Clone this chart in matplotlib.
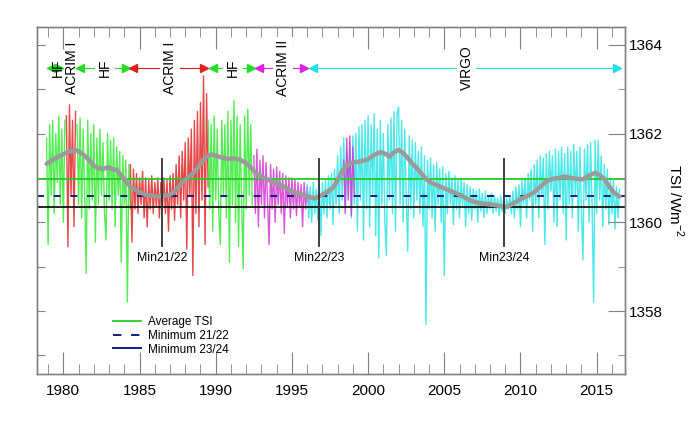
import matplotlib
matplotlib.use('Agg')
import matplotlib.pyplot as plt
from matplotlib.lines import Line2D
from matplotlib.ticker import MultipleLocator
import numpy as np

plt.rcParams['font.family'] = ['Liberation Sans', 'DejaVu Sans']
plt.rcParams['mathtext.fontset'] = 'custom'
plt.rcParams['mathtext.rm'] = 'Liberation Sans'
plt.rcParams['lines.scale_dashes'] = False

# daily TSI, sampled every 0.1 yr, per instrument (start year, values)
hf1_start = 1978.9
hf1_tsi = [1361.9, 1359.5, 1362.2, 1360.6, 1362.3, 1360.2, 1362.0, 1360.9, 1362.4, 1360.4,
           1362.1, 1360.0, 1362.3]

acrim1a_start = 1980.2
acrim1a_tsi = [1362.4, 1359.45, 1362.65, 1360.6, 1362.3, 1359.9, 1362.5]

hf2_start = 1980.9
hf2_tsi = [1362.2, 1360.4, 1362.35, 1360.1, 1362.1, 1360.6, 1358.85, 1362.3, 1360.3, 1362.0,
           1360.5, 1362.2, 1359.55, 1361.9, 1360.4, 1362.1, 1360.6, 1361.8, 1360.2, 1359.6,
           1362.0, 1360.5, 1361.85, 1360.3, 1361.9, 1359.9, 1361.7, 1360.6, 1361.6, 1359.1,
           1361.5, 1360.4, 1361.4, 1358.2, 1361.3, 1360.3]

acrim1b_start = 1984.4
acrim1b_tsi = [1361.3, 1359.55, 1361.2, 1360.3, 1361.1, 1360.2, 1361.0, 1360.4, 1361.15, 1360.1,
               1361.0, 1359.9, 1360.95, 1360.3, 1361.05, 1360.2, 1360.9, 1360.35, 1361.0, 1360.1,
               1360.9, 1360.3, 1361.0, 1360.2, 1360.95, 1359.8, 1361.05, 1360.3, 1361.1, 1360.05,
               1361.3, 1360.4, 1361.5, 1360.1, 1361.6, 1360.5, 1361.8, 1359.4, 1361.9, 1360.6,
               1362.1, 1358.8, 1362.3, 1360.2, 1362.5, 1359.9, 1362.7, 1360.5, 1363.3, 1359.5,
               1362.9, 1360.8]

hf3_start = 1989.5
hf3_tsi = [1362.3, 1360.3, 1362.2, 1359.8, 1362.4, 1360.5, 1362.1, 1360.2, 1359.5, 1362.3,
           1360.6, 1362.2, 1360.1, 1362.5, 1359.1, 1362.3, 1360.4, 1362.75, 1360.0, 1362.4,
           1359.45, 1362.2, 1360.5, 1358.95, 1362.4, 1360.3, 1362.55, 1360.6, 1362.2, 1360.4]

acrim2_start = 1992.5
acrim2_tsi = [1361.5, 1360.2, 1361.65, 1359.9, 1361.4, 1360.4, 1361.5, 1360.1, 1361.35, 1360.5,
              1359.5, 1361.3, 1360.3, 1361.2, 1360.0, 1361.25, 1360.4, 1361.15, 1360.2, 1361.1,
              1359.75, 1361.05, 1360.35, 1361.0, 1360.1, 1361.0, 1360.3, 1360.95, 1360.15, 1360.9,
              1360.35, 1360.85, 1359.9, 1360.9, 1360.3, 1360.8, 1360.4]

acrim2b_start = 1998.4
acrim2b_tsi = [1361.4, 1360.2, 1361.9, 1360.5, 1361.95, 1360.15, 1361.7, 1360.6]

virgo_start = 1996.0
virgo_tsi = [
    1360.85, 1360.1, 1360.8, 1360.0, 1360.9, 1360.2, 1360.75, 1360.05, 1360.85, 1359.7,   # 1996
    1360.9, 1360.2, 1360.95, 1360.1, 1361.05, 1360.3, 1361.1, 1359.95, 1361.2, 1360.4,    # 1997
    1361.5, 1360.2, 1361.7, 1360.5, 1361.9, 1360.3, 1361.6, 1360.6, 1361.8, 1360.1,       # 1998
    1361.95, 1360.4, 1362.0, 1359.8, 1362.15, 1360.5, 1362.2, 1359.6, 1362.3, 1360.3,     # 1999
    1362.4, 1359.9, 1362.2, 1360.6, 1362.45, 1359.7, 1362.1, 1359.2, 1362.3, 1360.4,      # 2000
    1362.0, 1360.0, 1359.25, 1362.2, 1360.5, 1362.35, 1360.2, 1362.5, 1359.8, 1362.45,    # 2001
    1362.6, 1360.4, 1362.3, 1360.0, 1362.1, 1360.6, 1359.35, 1361.95, 1360.3, 1361.85,    # 2002
    1360.1, 1361.8, 1360.5, 1361.6, 1360.2, 1361.7, 1359.9, 1361.5, 1357.7, 1361.4,       # 2003
    1360.3, 1361.45, 1360.1, 1361.3, 1359.8, 1361.35, 1360.4, 1361.2, 1360.0, 1361.25,    # 2004
    1358.8, 1361.1, 1360.2, 1361.15, 1360.4, 1361.0, 1359.95, 1361.05, 1360.3, 1360.95,   # 2005
    1360.1, 1361.0, 1360.35, 1360.9, 1359.9, 1360.85, 1360.2, 1360.8, 1360.05, 1360.75,   # 2006
    1360.3, 1360.7, 1360.0, 1360.75, 1360.25, 1360.65, 1360.1, 1360.7, 1360.2, 1360.6,    # 2007
    1360.3, 1360.65, 1360.2, 1360.6, 1360.25, 1360.55, 1360.15, 1360.6, 1360.25, 1360.5,  # 2008
    1360.2, 1360.55, 1360.3, 1360.6, 1360.2, 1360.7, 1360.1, 1360.8, 1360.3, 1360.85,     # 2009
    1359.9, 1360.95, 1360.4, 1361.0, 1360.1, 1361.1, 1360.5, 1361.2, 1359.8, 1361.3,      # 2010
    1360.4, 1361.4, 1360.1, 1361.5, 1360.6, 1361.45, 1359.5, 1361.55, 1360.3, 1361.6,     # 2011
    1360.7, 1361.5, 1360.0, 1361.65, 1359.9, 1361.6, 1360.5, 1361.7, 1360.2, 1361.55,     # 2012
    1359.6, 1361.7, 1360.4, 1361.6, 1360.1, 1361.75, 1360.6, 1361.6, 1359.8, 1361.7,      # 2013
    1360.3, 1359.15, 1361.65, 1360.5, 1361.75, 1360.0, 1361.8, 1360.4, 1358.2, 1361.85,   # 2014
    1360.2, 1361.85, 1360.5, 1361.5, 1359.9, 1361.3, 1360.3, 1361.2, 1359.95, 1361.0,     # 2015
    1360.2, 1360.95, 1359.85, 1360.8, 1360.1, 1360.75,                                    # 2016
]

# running mean (grey)
smooth_year = [1978.9, 1979.2, 1979.5, 1979.8, 1980.1, 1980.4, 1980.8, 1981.1, 1981.4, 1981.7,
               1982.0, 1982.3, 1982.6, 1982.9, 1983.2, 1983.5, 1983.8, 1984.1, 1984.4, 1984.7,
               1985.0, 1985.4, 1985.8, 1986.2, 1986.6, 1987.0, 1987.3, 1987.6, 1987.9, 1988.2,
               1988.5, 1988.8, 1989.1, 1989.4, 1989.7, 1990.0, 1990.4, 1990.8, 1991.2, 1991.6,
               1992.0, 1992.3, 1992.6, 1992.9, 1993.3, 1993.7, 1994.1, 1994.5, 1994.9, 1995.3,
               1995.7, 1996.1, 1996.5, 1996.9, 1997.3, 1997.7, 1998.0, 1998.3, 1998.6, 1998.9,
               1999.2, 1999.6, 2000.0, 2000.4, 2000.8, 2001.1, 2001.4, 2001.7, 2002.0, 2002.3,
               2002.6, 2002.9, 2003.2, 2003.5, 2003.8, 2004.1, 2004.5, 2004.9, 2005.3, 2005.8,
               2006.3, 2006.8, 2007.3, 2007.8, 2008.3, 2008.7, 2009.0, 2009.3, 2009.7, 2010.1,
               2010.5, 2010.9, 2011.3, 2011.7, 2012.1, 2012.5, 2012.9, 2013.3, 2013.7, 2014.1,
               2014.5, 2014.9, 2015.2, 2015.5, 2015.8, 2016.1, 2016.5]
smooth_tsi = [1361.32, 1361.38, 1361.45, 1361.5, 1361.55, 1361.6, 1361.63, 1361.58, 1361.5, 1361.4,
              1361.28, 1361.22, 1361.2, 1361.24, 1361.2, 1361.18, 1361.05, 1360.92, 1360.8, 1360.74,
              1360.68, 1360.62, 1360.6, 1360.58, 1360.6, 1360.62, 1360.7, 1360.82, 1360.92, 1361.02,
              1361.1, 1361.22, 1361.38, 1361.48, 1361.53, 1361.5, 1361.46, 1361.43, 1361.44, 1361.41,
              1361.33, 1361.24, 1361.12, 1361.05, 1360.98, 1360.92, 1360.86, 1360.8, 1360.72, 1360.66,
              1360.62, 1360.57, 1360.54, 1360.6, 1360.68, 1360.78, 1360.95, 1361.15, 1361.28, 1361.34,
              1361.36, 1361.38, 1361.42, 1361.52, 1361.58, 1361.55, 1361.48, 1361.58, 1361.63, 1361.56,
              1361.45, 1361.32, 1361.22, 1361.1, 1360.98, 1360.9, 1360.84, 1360.78, 1360.72, 1360.65,
              1360.57, 1360.48, 1360.43, 1360.41, 1360.39, 1360.36, 1360.34, 1360.38, 1360.46, 1360.54,
              1360.6, 1360.68, 1360.8, 1360.92, 1360.98, 1361.0, 1361.03, 1361.0, 1360.98, 1360.97,
              1361.05, 1361.12, 1361.06, 1360.98, 1360.82, 1360.68, 1360.58]

avg_tsi = 1360.98
min2122_tsi = 1360.59
min2324_tsi = 1360.35

min_year = [1986.48, 1996.78, 2008.92]
min_label = ['Min21/22', 'Min22/23', 'Min23/24']

# instrument bar along the top
bar_start = [1979.2, 1981.12, 1984.6, 1989.8, 1992.86, 1996.37]
bar_end = [1979.7, 1984.1, 1989.23, 1992.3, 1995.8, 2016.31]
bar_color = ['#22dd22', '#22dd22', '#e02020', '#22dd22', '#e020e0', '#20e0e0']
bar_label = ['HF', 'ACRIM I', 'HF', 'ACRIM I', 'HF', 'ACRIM II', 'VIRGO']
bar_label_x = [1979.67, 1980.55, 1982.74, 1987.0, 1991.15, 1994.43, 2006.47]
bar_tsi = 1363.48

GREEN = '#33ea33'
RED = '#e02828'
MAGENTA = '#d338d3'
CYAN = '#2ae4e4'
AXCOL = '#808080'

fig = plt.figure(figsize=(6.9, 4.24), dpi=100)
ax = fig.add_axes([37 / 690, 1 - 374 / 424, 588 / 690, 347.3 / 424])

series = [(hf1_start, hf1_tsi, GREEN), (acrim1a_start, acrim1a_tsi, RED),
          (hf2_start, hf2_tsi, GREEN), (acrim1b_start, acrim1b_tsi, RED),
          (hf3_start, hf3_tsi, GREEN), (acrim2_start, acrim2_tsi, MAGENTA),
          (virgo_start, virgo_tsi, CYAN), (acrim2b_start, acrim2b_tsi, MAGENTA)]
for start, vals, col in series:
    t = start + 0.1 * np.arange(len(vals))
    ax.plot(t, vals, color=col, lw=1.0, alpha=0.85, zorder=1)

ax.axhline(avg_tsi, color='#22cc22', lw=1.3, zorder=2)
ax.axhline(min2122_tsi, color='#1a1a8a', lw=1.4, dashes=(5, 7), zorder=2)
ax.axhline(min2324_tsi, color='black', lw=1.2, zorder=2)

ax.plot(smooth_year, smooth_tsi, color='#9a9a9a', lw=3.2, zorder=3, solid_capstyle='round')

for yr, lab in zip(min_year, min_label):
    ax.plot([yr, yr], [1359.46, 1361.43], color='#303030', lw=1.3, zorder=4)
    ax.text(yr, 1359.2, lab, ha='center', va='center', fontsize=8.8, zorder=5)

for s, e, c in zip(bar_start, bar_end, bar_color):
    ax.plot([s, e], [bar_tsi, bar_tsi], color=c, lw=0.8, zorder=4)
    ax.plot([s], [bar_tsi], marker='<', color=c, ms=6, zorder=5, mec=c)
    ax.plot([e], [bar_tsi], marker='>', color=c, ms=6, zorder=5, mec=c)
for i, (lab, x) in enumerate(zip(bar_label, bar_label_x)):
    bb = None if i < 2 else dict(facecolor='white', edgecolor='none', pad=2)
    ax.text(x, bar_tsi, lab, rotation=90, ha='center', va='center', fontsize=10,
            bbox=bb, zorder=6)

ax.set_xlim(1978.27, 2016.86)
ax.set_ylim(1356.58, 1364.41)
ax.xaxis.set_major_locator(MultipleLocator(5))
ax.xaxis.set_minor_locator(MultipleLocator(1))
ax.yaxis.set_major_locator(MultipleLocator(1))
ax.tick_params(axis='x', which='both', direction='in', top=True, bottom=True,
               color=AXCOL, labelsize=11, pad=7)
ax.tick_params(axis='x', which='major', length=16)
ax.tick_params(axis='x', which='minor', length=7)
ax.tick_params(axis='y', which='both', direction='in', left=True, right=False,
               labelleft=False, length=6, color=AXCOL)

ax2 = ax.twinx()
ax2.set_ylim(1356.58, 1364.41)
ax2.yaxis.set_major_locator(MultipleLocator(2))
ax2.yaxis.set_minor_locator(MultipleLocator(1))
ax2.tick_params(axis='y', which='both', direction='in', color=AXCOL, labelsize=11, pad=3)
ax2.tick_params(axis='y', which='major', length=12)
ax2.tick_params(axis='y', which='minor', length=5)
ax2.yaxis.set_major_formatter(plt.FuncFormatter(lambda v, p: '%d' % v))
ax2.set_ylabel(r'TSI /Wm$^{-2}$', rotation=270, fontsize=11, labelpad=16)
for a in (ax, ax2):
    for sp in a.spines.values():
        sp.set_color(AXCOL)
        sp.set_linewidth(1.0)

handles = [Line2D([], [], color='#22cc22', lw=1.3),
           Line2D([], [], color='#1a1a8a', lw=1.4, dashes=(6, 7)),
           Line2D([], [], color='#1a1a8a', lw=1.4)]
ax.legend(handles, ['Average TSI', 'Minimum 21/22', 'Minimum 23/24'],
          loc='upper left', bbox_to_anchor=(0.129, 0.167), frameon=False,
          fontsize=8.5, handlelength=2.4, handletextpad=0.6, labelspacing=0.15,
          borderpad=0, borderaxespad=0)

plt.savefig('out.png', dpi=100)
